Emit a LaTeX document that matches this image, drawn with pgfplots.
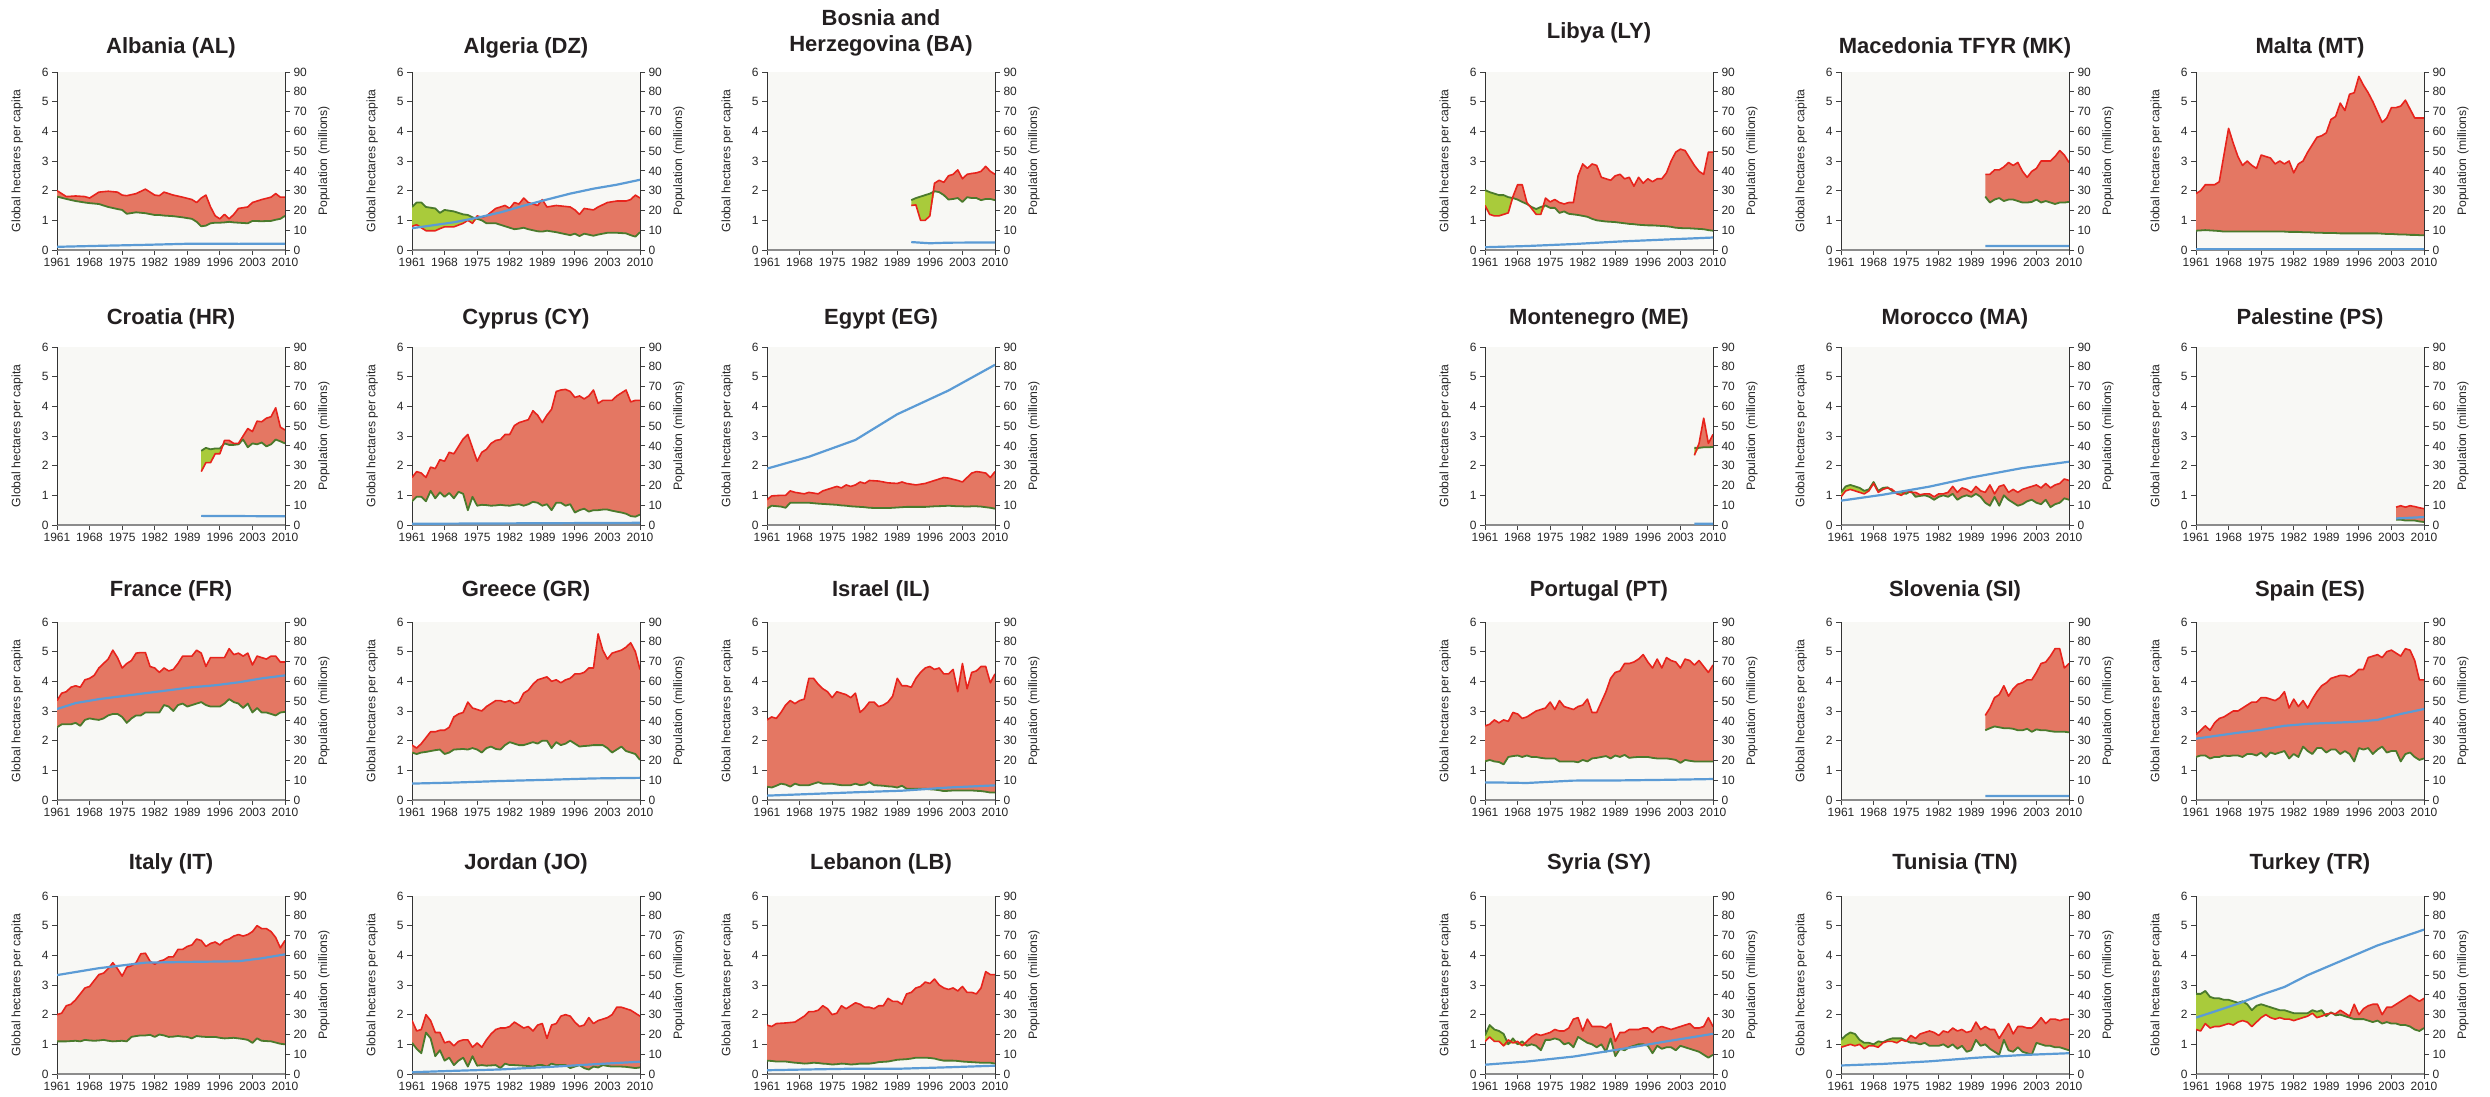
\documentclass[border=0pt]{standalone}
\usepackage{fontspec}
\setmainfont{Liberation Sans}
\usepackage{pgfplots}
\usepackage{pgfplotstable}
\pgfplotsset{compat=1.18}
\usepgfplotslibrary{fillbetween}
\definecolor{bgc}{HTML}{F8F8F5}
\definecolor{redfill}{HTML}{E47763}
\definecolor{redline}{HTML}{E8231C}
\definecolor{grnfill}{HTML}{A9CB3B}
\definecolor{grnline}{HTML}{4A7A2C}
\definecolor{popc}{HTML}{5B9BD5}
\definecolor{txt}{HTML}{231F20}

% ---------------- data: year, footprint (ef), biocapacity (bc) -------------
\pgfplotstableread{
year ef bc
1961 2.00 1.80
1963 1.80 1.72
1965 1.82 1.65
1967 1.80 1.60
1968 1.75 1.58
1970 1.95 1.55
1972 1.98 1.45
1974 1.95 1.38
1975 1.85 1.35
1976 1.83 1.22
1978 1.90 1.27
1980 2.05 1.24
1982 1.85 1.18
1983 1.83 1.18
1984 1.95 1.16
1986 1.85 1.14
1988 1.78 1.10
1990 1.70 1.05
1991 1.60 0.95
1992 1.75 0.80
1993 1.85 0.82
1994 1.45 0.90
1995 1.15 0.92
1996 1.05 0.92
1997 1.20 0.93
1998 1.05 0.95
1999 1.20 0.93
2000 1.40 0.92
2002 1.45 0.90
2003 1.60 0.98
2005 1.70 0.97
2007 1.78 0.98
2008 1.90 1.02
2009 1.78 1.05
2010 1.78 1.15
}\tAL
\pgfplotstableread{
year pop
1961 1.6
1970 2.1
1980 2.6
1990 3.2
1996 3.2
2000 3.1
2010 3.2
}\pAL
\pgfplotstableread{
year ef bc
1961 0.80 1.45
1962 0.85 1.60
1963 0.75 1.60
1964 0.65 1.45
1966 0.65 1.40
1967 0.72 1.25
1968 0.78 1.35
1970 0.78 1.30
1972 0.90 1.20
1973 1.00 1.18
1974 0.90 1.10
1975 1.15 1.05
1976 1.10 1.00
1977 1.15 0.90
1979 1.40 0.90
1981 1.50 0.80
1982 1.40 0.75
1983 1.60 0.70
1984 1.55 0.72
1985 1.75 0.75
1986 1.60 0.70
1988 1.50 0.63
1989 1.70 0.62
1990 1.45 0.65
1992 1.50 0.60
1995 1.45 0.50
1996 1.35 0.55
1997 1.20 0.47
1998 1.40 0.55
2000 1.35 0.48
2001 1.45 0.52
2003 1.60 0.58
2005 1.65 0.58
2007 1.65 0.56
2008 1.70 0.50
2009 1.85 0.45
2010 1.75 0.60
}\tDZ
\pgfplotstableread{
year pop
1961 11.0
1970 14.0
1975 16.3
1980 19.0
1985 22.4
1990 25.5
1995 28.5
2000 31.0
2005 33.0
2010 35.5
}\pDZ
\pgfplotstableread{
year ef bc
1992 1.50 1.68
1993 1.52 1.75
1994 1.00 1.80
1995 1.00 1.85
1996 1.15 1.90
1997 2.25 1.98
1998 2.35 1.95
1999 2.28 1.85
2000 2.50 1.70
2001 2.55 1.72
2002 2.70 1.75
2003 2.40 1.62
2004 2.55 1.78
2005 2.58 1.75
2006 2.60 1.75
2007 2.65 1.68
2008 2.82 1.72
2009 2.65 1.72
2010 2.55 1.68
}\tBA
\pgfplotstableread{
year pop
1992 4.0
1996 3.4
2000 3.7
2010 3.8
}\pBA
\pgfplotstableread{
year ef bc
1992 1.80 2.50
1993 2.10 2.60
1994 2.10 2.55
1995 2.40 2.58
1996 2.40 2.58
1997 2.85 2.75
1998 2.85 2.70
1999 2.75 2.70
2000 2.75 2.72
2001 3.00 2.88
2002 3.25 2.62
2003 3.15 2.75
2004 3.50 2.72
2005 3.48 2.78
2006 3.60 2.65
2007 3.65 2.72
2008 3.95 2.88
2009 3.30 2.82
2010 3.20 2.75
}\tHR
\pgfplotstableread{
year pop
1992 4.6
2010 4.4
}\pHR
\pgfplotstableread{
year ef bc
1961 1.60 0.80
1962 1.80 0.95
1963 1.75 0.95
1964 1.60 0.80
1965 1.95 1.15
1966 1.90 0.90
1967 2.20 1.10
1968 2.15 0.95
1969 2.45 1.08
1970 2.40 0.90
1971 2.65 1.12
1972 2.90 1.05
1973 3.05 0.50
1974 2.60 0.95
1975 2.15 0.65
1976 2.45 0.68
1977 2.55 0.67
1978 2.75 0.65
1979 2.85 0.66
1980 2.88 0.68
1981 3.05 0.66
1982 3.05 0.65
1983 3.35 0.68
1984 3.45 0.70
1985 3.50 0.65
1986 3.55 0.70
1987 3.85 0.78
1988 3.70 0.75
1989 3.45 0.65
1990 3.70 0.70
1991 3.90 0.50
1992 4.50 0.75
1993 4.55 0.75
1994 4.57 0.65
1995 4.50 0.70
1996 4.30 0.42
1997 4.35 0.50
1998 4.25 0.55
1999 4.35 0.45
2000 4.55 0.50
2001 4.10 0.50
2002 4.20 0.52
2003 4.20 0.52
2004 4.20 0.48
2005 4.35 0.45
2006 4.45 0.42
2007 4.55 0.38
2008 4.15 0.30
2009 4.20 0.28
2010 4.20 0.35
}\tCY
\pgfplotstableread{
year pop
1961 0.6
2010 1.1
}\pCY
\pgfplotstableread{
year ef bc
1961 0.85 0.55
1962 0.98 0.65
1964 1.00 0.62
1965 1.00 0.58
1966 1.15 0.75
1967 1.10 0.75
1969 1.05 0.75
1970 1.10 0.75
1972 1.05 0.72
1973 1.15 0.71
1975 1.25 0.69
1976 1.30 0.68
1977 1.25 0.66
1978 1.35 0.65
1979 1.30 0.63
1980 1.35 0.62
1981 1.45 0.61
1982 1.40 0.60
1983 1.50 0.58
1985 1.48 0.57
1987 1.42 0.57
1989 1.40 0.59
1990 1.45 0.60
1991 1.40 0.61
1993 1.35 0.61
1995 1.40 0.61
1997 1.50 0.63
1999 1.60 0.64
2000 1.58 0.65
2002 1.50 0.63
2003 1.45 0.63
2004 1.60 0.62
2005 1.75 0.63
2006 1.80 0.63
2007 1.78 0.62
2008 1.75 0.60
2009 1.60 0.58
2010 1.80 0.55
}\tEG
\pgfplotstableread{
year pop
1961 28.5
1970 34.5
1980 43.0
1989 56.0
2000 68.0
2010 81.0
}\pEG
\pgfplotstableread{
year ef bc
1961 3.35 2.45
1962 3.60 2.55
1963 3.65 2.55
1964 3.80 2.55
1965 3.85 2.60
1966 3.80 2.50
1967 4.05 2.70
1968 4.10 2.75
1969 4.20 2.72
1970 4.45 2.70
1971 4.60 2.75
1972 4.75 2.85
1973 5.05 2.90
1974 4.80 2.90
1975 4.45 2.80
1976 4.60 2.60
1977 4.70 2.75
1978 4.95 2.85
1979 4.97 2.85
1980 4.97 2.95
1981 4.50 2.95
1982 4.45 2.95
1983 4.30 2.95
1984 4.45 3.20
1985 4.35 3.15
1986 4.40 3.00
1987 4.60 3.20
1988 4.85 3.25
1989 4.85 3.15
1990 4.85 3.20
1991 5.05 3.25
1992 4.95 3.30
1993 4.50 3.20
1994 4.80 3.15
1995 4.80 3.15
1996 4.80 3.15
1997 4.80 3.25
1998 5.10 3.40
1999 4.90 3.30
2000 4.95 3.25
2001 4.85 3.10
2002 4.95 3.25
2003 4.55 2.95
2004 4.85 3.10
2005 4.80 2.95
2006 4.75 2.95
2007 4.85 2.90
2008 4.85 2.85
2009 4.65 2.95
2010 4.65 2.97
}\tFR
\pgfplotstableread{
year pop
1961 46.0
1965 49.0
1970 51.0
1975 52.5
1980 54.0
1985 55.5
1990 57.0
1995 58.0
2000 59.5
2005 61.5
2010 63.0
}\pFR
\pgfplotstableread{
year ef bc
1961 1.85 1.60
1962 1.75 1.55
1963 1.90 1.60
1964 2.10 1.62
1965 2.30 1.65
1966 2.30 1.68
1967 2.35 1.70
1968 2.35 1.55
1969 2.45 1.60
1970 2.80 1.70
1971 2.90 1.71
1972 2.95 1.72
1973 3.30 1.70
1974 3.10 1.75
1975 3.05 1.70
1976 3.00 1.60
1977 3.15 1.75
1978 3.25 1.80
1979 3.35 1.72
1980 3.35 1.70
1981 3.30 1.85
1982 3.35 1.95
1983 3.25 1.90
1984 3.30 1.85
1985 3.60 1.85
1986 3.70 1.90
1987 3.90 1.95
1988 4.05 1.90
1989 4.10 2.00
1990 4.15 2.00
1991 4.00 1.75
1992 4.05 1.95
1993 3.95 1.85
1994 4.05 1.90
1995 4.10 2.00
1996 4.25 1.90
1997 4.25 1.80
1998 4.30 1.82
1999 4.45 1.83
2000 4.45 1.85
2001 5.60 1.85
2002 5.05 1.85
2003 4.75 1.75
2004 4.95 1.60
2005 5.00 1.70
2006 5.05 1.80
2007 5.15 1.65
2008 5.30 1.60
2009 5.00 1.55
2010 4.40 1.35
}\tGR
\pgfplotstableread{
year pop
1961 8.3
1970 8.8
1980 9.6
1990 10.2
2000 10.9
2010 11.2
}\pGR
\pgfplotstableread{
year ef bc
1961 2.70 0.45
1962 2.80 0.42
1963 2.75 0.48
1964 2.95 0.55
1965 3.20 0.52
1966 3.35 0.45
1967 3.25 0.55
1968 3.35 0.50
1969 3.40 0.50
1970 4.10 0.50
1971 4.10 0.55
1972 3.90 0.60
1973 3.75 0.55
1974 3.65 0.55
1975 3.45 0.55
1976 3.65 0.52
1977 3.60 0.50
1978 3.55 0.50
1979 3.45 0.50
1980 3.60 0.55
1981 2.95 0.50
1982 3.10 0.52
1983 3.30 0.60
1984 3.30 0.50
1985 3.15 0.49
1986 3.20 0.48
1987 3.30 0.46
1988 3.50 0.45
1989 4.10 0.42
1990 3.85 0.48
1991 3.85 0.38
1992 3.80 0.38
1993 4.10 0.38
1994 4.30 0.38
1995 4.45 0.38
1996 4.50 0.36
1997 4.40 0.35
1998 4.45 0.33
1999 4.25 0.30
2000 4.25 0.31
2001 4.40 0.32
2002 3.65 0.32
2003 4.60 0.32
2004 3.75 0.32
2005 4.30 0.32
2006 4.35 0.31
2007 4.50 0.30
2008 4.50 0.28
2009 3.95 0.25
2010 4.25 0.25
}\tIL
\pgfplotstableread{
year pop
1961 2.2
1970 3.0
1980 3.9
1990 4.7
2000 6.3
2010 7.4
}\pIL
\pgfplotstableread{
year ef bc
1961 2.00 1.10
1962 2.05 1.10
1963 2.30 1.10
1964 2.35 1.11
1965 2.50 1.12
1966 2.70 1.10
1967 2.90 1.15
1968 2.95 1.13
1969 3.15 1.12
1970 3.35 1.13
1971 3.40 1.15
1972 3.55 1.12
1973 3.75 1.10
1974 3.55 1.11
1975 3.30 1.12
1976 3.60 1.10
1977 3.65 1.25
1978 3.75 1.28
1979 4.05 1.30
1980 4.07 1.30
1981 3.80 1.32
1982 3.70 1.25
1983 3.80 1.33
1984 3.85 1.30
1985 3.95 1.25
1986 3.95 1.26
1987 4.20 1.28
1988 4.20 1.26
1989 4.30 1.25
1990 4.35 1.20
1991 4.55 1.28
1992 4.50 1.26
1993 4.30 1.25
1994 4.40 1.25
1995 4.45 1.25
1996 4.35 1.22
1997 4.50 1.20
1998 4.55 1.21
1999 4.65 1.22
2000 4.70 1.20
2001 4.65 1.18
2002 4.70 1.15
2003 4.80 1.05
2004 5.00 1.20
2005 4.90 1.12
2006 4.90 1.11
2007 4.80 1.10
2008 4.60 1.06
2009 4.25 1.02
2010 4.50 1.00
}\tIT
\pgfplotstableread{
year pop
1961 50.0
1970 53.5
1980 56.3
1990 56.7
2000 57.0
2005 58.5
2010 60.5
}\pIT
\pgfplotstableread{
year ef bc
1961 1.80 1.05
1962 1.45 0.85
1963 1.50 0.70
1964 2.00 1.40
1965 1.80 1.20
1966 1.40 0.60
1967 1.40 0.80
1968 1.05 0.45
1969 1.10 0.55
1970 0.95 0.30
1971 1.10 0.45
1972 1.15 0.55
1973 1.15 0.25
1974 0.90 0.60
1975 1.05 0.28
1976 0.90 0.30
1977 1.15 0.28
1978 1.35 0.29
1979 1.50 0.30
1980 1.55 0.20
1981 1.55 0.35
1982 1.60 0.30
1983 1.75 0.30
1984 1.65 0.29
1985 1.55 0.28
1986 1.60 0.27
1987 1.45 0.25
1988 1.65 0.30
1989 1.70 0.30
1990 1.20 0.25
1991 1.65 0.35
1992 1.70 0.30
1993 1.95 0.30
1994 2.00 0.30
1995 1.95 0.20
1996 1.75 0.25
1997 1.60 0.30
1998 1.65 0.20
1999 1.90 0.15
2000 1.70 0.25
2001 1.80 0.22
2002 1.85 0.30
2003 1.90 0.27
2004 2.00 0.25
2005 2.25 0.25
2006 2.25 0.25
2007 2.20 0.24
2008 2.15 0.22
2009 2.05 0.20
2010 1.95 0.22
}\tJO
\pgfplotstableread{
year pop
1961 0.9
1970 1.6
1980 2.3
1990 3.5
2000 4.9
2010 6.2
}\pJO
\pgfplotstableread{
year ef bc
1961 1.65 0.45
1962 1.60 0.44
1963 1.70 0.42
1965 1.72 0.42
1967 1.75 0.38
1968 1.85 0.37
1969 1.95 0.35
1970 2.10 0.36
1971 2.10 0.38
1972 2.15 0.37
1973 2.30 0.35
1974 2.20 0.34
1975 2.00 0.32
1976 2.05 0.33
1977 2.30 0.35
1978 2.20 0.34
1979 2.30 0.32
1980 2.40 0.33
1981 2.35 0.35
1982 2.25 0.35
1983 2.25 0.35
1984 2.20 0.37
1985 2.30 0.40
1986 2.30 0.41
1987 2.55 0.42
1988 2.45 0.45
1989 2.45 0.48
1990 2.35 0.49
1991 2.70 0.50
1992 2.75 0.52
1993 2.90 0.55
1994 2.95 0.55
1995 3.10 0.55
1996 3.05 0.54
1997 3.20 0.52
1998 3.00 0.48
1999 2.90 0.45
2000 2.85 0.45
2001 2.90 0.45
2002 2.80 0.44
2003 2.95 0.42
2004 2.75 0.41
2005 2.75 0.40
2006 2.70 0.39
2007 2.90 0.38
2008 3.45 0.38
2009 3.35 0.38
2010 3.35 0.35
}\tLB
\pgfplotstableread{
year pop
1961 1.9
1970 2.3
1980 2.7
1990 2.7
2000 3.4
2010 4.2
}\pLB
\pgfplotstableread{
year ef bc
1961 1.50 2.02
1962 1.20 1.95
1963 1.15 1.90
1964 1.15 1.85
1965 1.20 1.85
1966 1.25 1.78
1967 1.80 1.75
1968 2.20 1.70
1969 2.20 1.62
1970 1.60 1.55
1971 1.40 1.45
1972 1.20 1.38
1973 1.20 1.45
1974 1.75 1.50
1975 1.62 1.42
1976 1.70 1.42
1977 1.60 1.25
1978 1.55 1.30
1979 1.60 1.22
1980 1.60 1.20
1981 2.50 1.18
1982 2.90 1.15
1983 2.75 1.12
1984 2.90 1.05
1985 2.85 1.00
1986 2.45 0.98
1987 2.40 0.96
1988 2.35 0.95
1989 2.50 0.94
1990 2.55 0.92
1991 2.40 0.90
1992 2.45 0.88
1993 2.15 0.87
1994 2.45 0.85
1995 2.25 0.84
1996 2.40 0.83
1997 2.30 0.83
1998 2.40 0.82
1999 2.40 0.81
2000 2.60 0.80
2001 3.00 0.78
2002 3.30 0.75
2003 3.40 0.74
2004 3.35 0.73
2005 3.10 0.73
2006 2.85 0.72
2007 2.65 0.71
2008 2.55 0.70
2009 3.30 0.67
2010 3.30 0.65
}\tLY
\pgfplotstableread{
year pop
1961 1.4
1970 2.0
1980 3.0
1990 4.3
2000 5.3
2010 6.3
}\pLY
\pgfplotstableread{
year ef bc
1992 2.55 1.80
1993 2.55 1.60
1994 2.70 1.70
1995 2.70 1.75
1996 2.80 1.65
1997 2.95 1.70
1998 2.85 1.70
1999 2.95 1.65
2000 2.65 1.60
2001 2.45 1.60
2002 2.65 1.62
2003 2.75 1.70
2004 3.00 1.60
2005 3.00 1.65
2006 3.00 1.60
2007 3.15 1.55
2008 3.35 1.60
2009 3.20 1.60
2010 2.95 1.62
}\tMK
\pgfplotstableread{
year pop
1992 2.0
2010 2.05
}\pMK
\pgfplotstableread{
year ef bc
1961 1.90 0.65
1962 2.00 0.66
1963 2.20 0.67
1964 2.20 0.66
1965 2.20 0.65
1966 2.30 0.64
1967 3.20 0.62
1968 4.10 0.62
1969 3.60 0.62
1970 3.15 0.62
1971 2.85 0.62
1972 3.00 0.62
1973 2.85 0.62
1974 2.75 0.62
1975 3.20 0.62
1976 3.15 0.62
1977 3.10 0.62
1978 2.90 0.62
1979 3.00 0.62
1980 2.90 0.62
1981 3.00 0.61
1982 2.60 0.61
1983 2.90 0.61
1984 3.00 0.60
1985 3.30 0.60
1986 3.55 0.59
1987 3.80 0.58
1988 3.85 0.58
1989 3.95 0.57
1990 4.40 0.57
1991 4.50 0.57
1992 4.95 0.56
1993 4.70 0.56
1994 5.25 0.56
1995 5.30 0.56
1996 5.85 0.56
1997 5.55 0.56
1998 5.30 0.56
1999 5.00 0.56
2000 4.65 0.56
2001 4.30 0.55
2002 4.45 0.54
2003 4.80 0.54
2004 4.80 0.53
2005 4.85 0.52
2006 5.05 0.52
2007 4.75 0.51
2008 4.45 0.51
2009 4.45 0.50
2010 4.45 0.50
}\tMT
\pgfplotstableread{
year pop
1961 0.33
2010 0.41
}\pMT
\pgfplotstableread{
year ef bc
2006 2.35 2.60
2007 2.75 2.60
2008 3.60 2.62
2009 2.75 2.62
2010 3.05 2.63
}\tME
\pgfplotstableread{
year pop
2006 0.62
2010 0.63
}\pME
\pgfplotstableread{
year ef bc
1961 0.95 1.10
1962 1.15 1.30
1963 1.20 1.35
1964 1.15 1.30
1965 1.10 1.25
1966 1.05 1.15
1967 1.15 1.20
1968 1.40 1.45
1969 1.10 1.15
1970 1.20 1.25
1971 1.25 1.27
1972 1.20 1.15
1973 1.05 1.08
1974 1.00 1.10
1975 1.15 1.05
1976 1.10 1.15
1977 1.10 0.95
1978 1.02 0.98
1979 1.05 1.00
1980 1.05 0.95
1981 0.95 0.85
1982 1.05 0.95
1983 1.05 1.00
1984 1.10 0.95
1985 1.30 1.05
1986 1.10 0.85
1987 1.25 0.95
1988 1.20 1.00
1989 1.10 0.95
1990 1.30 1.05
1991 1.15 0.95
1992 1.10 0.75
1993 1.35 0.65
1994 1.05 0.95
1995 1.30 0.65
1996 1.35 1.00
1997 1.10 0.85
1998 1.20 0.75
1999 1.10 0.65
2000 1.20 0.70
2001 1.25 0.80
2002 1.30 0.85
2003 1.35 0.75
2004 1.25 0.70
2005 1.40 0.85
2006 1.25 0.60
2007 1.35 0.70
2008 1.40 0.75
2009 1.55 0.90
2010 1.50 0.85
}\tMA
\pgfplotstableread{
year pop
1961 12.3
1970 15.3
1980 19.4
1989 24.0
2000 28.8
2010 32.0
}\pMA
\pgfplotstableread{
year ef bc
2004 0.60 0.18
2005 0.65 0.18
2006 0.60 0.15
2007 0.65 0.15
2008 0.62 0.15
2009 0.58 0.12
2010 0.55 0.10
}\tPS
\pgfplotstableread{
year pop
2004 3.3
2010 4.0
}\pPS
\pgfplotstableread{
year ef bc
1961 2.50 1.30
1962 2.55 1.35
1963 2.70 1.30
1964 2.60 1.28
1965 2.70 1.20
1966 2.65 1.45
1967 2.95 1.48
1968 2.90 1.50
1969 2.75 1.45
1970 2.80 1.50
1971 2.90 1.45
1972 3.00 1.45
1973 3.05 1.42
1974 3.10 1.40
1975 3.30 1.40
1976 3.05 1.40
1977 3.35 1.30
1978 3.15 1.30
1979 3.10 1.30
1980 3.05 1.30
1981 3.15 1.27
1982 3.20 1.35
1983 3.40 1.30
1984 2.95 1.40
1985 2.95 1.42
1986 3.30 1.45
1987 3.65 1.48
1988 4.10 1.40
1989 4.30 1.50
1990 4.35 1.45
1991 4.60 1.52
1992 4.60 1.42
1993 4.65 1.44
1994 4.75 1.45
1995 4.90 1.45
1996 4.65 1.45
1997 4.45 1.42
1998 4.75 1.40
1999 4.45 1.40
2000 4.80 1.40
2001 4.70 1.38
2002 4.65 1.35
2003 4.45 1.25
2004 4.75 1.35
2005 4.70 1.32
2006 4.55 1.30
2007 4.70 1.30
2008 4.50 1.30
2009 4.30 1.30
2010 4.55 1.30
}\tPT
\pgfplotstableread{
year pop
1961 8.9
1965 8.8
1970 8.6
1975 9.2
1980 9.8
1990 9.9
2000 10.2
2010 10.6
}\pPT
\pgfplotstableread{
year ef bc
1992 2.85 2.35
1993 3.10 2.42
1994 3.45 2.48
1995 3.55 2.45
1996 3.85 2.42
1997 3.50 2.42
1998 3.75 2.40
1999 3.90 2.35
2000 3.95 2.35
2001 4.05 2.40
2002 4.05 2.30
2003 4.30 2.38
2004 4.60 2.35
2005 4.65 2.35
2006 4.85 2.32
2007 5.10 2.30
2008 5.10 2.30
2009 4.45 2.30
2010 4.60 2.28
}\tSI
\pgfplotstableread{
year pop
1992 2.0
2010 2.05
}\pSI
\pgfplotstableread{
year ef bc
1961 2.20 1.45
1962 2.35 1.50
1963 2.50 1.50
1964 2.35 1.40
1965 2.60 1.45
1966 2.75 1.45
1967 2.80 1.50
1968 2.90 1.48
1969 3.00 1.50
1970 3.00 1.50
1971 3.10 1.45
1972 3.20 1.55
1973 3.30 1.55
1974 3.30 1.50
1975 3.45 1.60
1976 3.45 1.45
1977 3.40 1.60
1978 3.35 1.55
1979 3.45 1.60
1980 3.65 1.65
1981 3.10 1.40
1982 3.40 1.55
1983 3.15 1.45
1984 3.35 1.80
1985 3.10 1.65
1986 3.40 1.55
1987 3.65 1.75
1988 3.85 1.75
1989 3.95 1.60
1990 4.10 1.70
1991 4.15 1.70
1992 4.20 1.55
1993 4.20 1.65
1994 4.15 1.55
1995 4.25 1.30
1996 4.40 1.75
1997 4.40 1.70
1998 4.80 1.75
1999 4.85 1.55
2000 4.90 1.70
2001 4.80 1.80
2002 5.00 1.60
2003 5.05 1.65
2004 4.95 1.65
2005 4.85 1.30
2006 5.10 1.55
2007 5.05 1.60
2008 4.70 1.45
2009 4.05 1.35
2010 4.05 1.40
}\tES
\pgfplotstableread{
year pop
1961 31.0
1970 34.0
1975 35.5
1980 37.5
1985 38.5
1990 39.0
1995 39.5
2000 40.5
2005 43.5
2010 46.0
}\pES
\pgfplotstableread{
year ef bc
1961 1.10 1.30
1962 1.25 1.65
1963 1.10 1.50
1964 1.10 1.45
1965 0.95 1.35
1966 1.15 1.00
1967 1.05 1.20
1968 1.10 1.00
1969 0.95 1.10
1970 1.10 0.95
1971 1.25 1.00
1972 1.35 0.95
1973 1.30 0.80
1974 1.35 1.15
1975 1.40 1.15
1976 1.50 1.20
1977 1.45 1.15
1978 1.45 1.00
1979 1.55 1.05
1980 1.85 0.90
1981 1.90 1.25
1982 1.45 1.15
1983 1.85 1.05
1984 1.60 1.00
1985 1.60 0.90
1986 1.60 1.00
1987 1.55 0.75
1988 1.70 1.20
1989 1.10 0.60
1990 1.40 0.85
1991 1.40 0.80
1992 1.50 0.90
1993 1.50 0.95
1994 1.50 1.00
1995 1.55 1.00
1996 1.55 0.95
1997 1.40 0.70
1998 1.55 0.95
1999 1.60 0.85
2000 1.55 0.90
2001 1.50 0.90
2002 1.55 0.80
2003 1.60 0.95
2004 1.65 0.90
2005 1.70 0.85
2006 1.55 0.80
2007 1.55 0.75
2008 1.60 0.65
2009 1.90 0.55
2010 1.60 0.65
}\tSY
\pgfplotstableread{
year pop
1961 4.7
1970 6.3
1980 8.8
1990 12.5
2000 16.5
2010 20.3
}\pSY
\pgfplotstableread{
year ef bc
1961 0.90 1.15
1962 0.95 1.30
1963 1.00 1.40
1964 0.95 1.35
1965 1.00 1.15
1966 0.85 1.05
1967 0.95 1.05
1968 0.95 1.00
1969 0.90 1.10
1970 1.05 1.07
1971 1.10 1.15
1972 1.10 1.20
1973 1.05 1.20
1974 1.15 1.20
1975 1.10 1.12
1976 1.30 1.05
1977 1.20 1.05
1978 1.35 1.00
1979 1.40 1.05
1980 1.45 0.95
1981 1.40 0.95
1982 1.30 0.95
1983 1.45 1.00
1984 1.40 0.90
1985 1.55 1.00
1986 1.45 0.85
1987 1.50 0.95
1988 1.40 0.75
1989 1.45 0.80
1990 1.75 1.15
1991 1.50 0.95
1992 1.60 1.00
1993 1.50 0.85
1994 1.50 0.75
1995 1.20 0.65
1996 1.45 1.15
1997 1.70 0.80
1998 1.35 0.75
1999 1.60 0.90
2000 1.60 0.75
2001 1.55 0.70
2002 1.55 0.65
2003 1.70 1.05
2004 1.90 1.00
2005 1.70 0.95
2006 1.85 0.95
2007 1.85 0.90
2008 1.80 0.90
2009 1.85 0.85
2010 1.85 0.80
}\tTN
\pgfplotstableread{
year pop
1961 4.3
1970 5.1
1980 6.4
1990 8.2
2000 9.6
2010 10.5
}\pTN
\pgfplotstableread{
year ef bc
1961 1.50 2.70
1962 1.45 2.70
1963 1.70 2.80
1964 1.55 2.60
1965 1.60 2.55
1966 1.60 2.55
1967 1.65 2.50
1968 1.70 2.50
1969 1.65 2.45
1970 1.75 2.40
1971 1.80 2.45
1972 1.75 2.35
1973 1.60 2.15
1974 1.75 2.30
1975 1.90 2.35
1976 2.00 2.30
1977 1.90 2.25
1978 1.85 2.20
1979 1.90 2.15
1980 1.85 2.15
1981 1.85 2.10
1982 1.80 2.05
1983 1.85 2.05
1984 1.90 2.05
1985 1.95 2.05
1986 2.05 2.15
1987 1.90 2.10
1988 1.95 2.15
1989 2.02 1.95
1990 2.05 2.08
1991 2.03 1.98
1992 2.15 2.00
1993 2.05 1.95
1994 1.95 1.90
1995 2.35 1.85
1996 2.00 1.85
1997 2.20 1.85
1998 2.30 1.80
1999 2.35 1.75
2000 2.35 1.80
2001 2.00 1.70
2002 2.25 1.75
2003 2.25 1.70
2004 2.35 1.70
2005 2.45 1.65
2006 2.55 1.65
2007 2.65 1.60
2008 2.55 1.50
2009 2.45 1.45
2010 2.55 1.55
}\tTR
\pgfplotstableread{
year pop
1961 28.5
1970 35.5
1975 40.0
1980 44.0
1985 50.0
1990 55.0
1995 60.0
2000 65.0
2005 69.0
2010 73.0
}\pTR

% ---------------- styles ----------------
\pgfplotsset{
  panelbase/.style={
    scale only axis, width=228pt, height=178pt,
    xmin=1961, xmax=2010,
    /pgf/number format/assume math mode=true,
    /pgf/number format/1000 sep={},
    tick align=outside, major tick length=5pt,
    tick style={draw=black!75, line width=0.8pt},
    ticklabel style={text=black!85, font=\fontsize{12}{14}\selectfont},
    label style={text=black!85, font=\fontsize{12.2}{14}\selectfont},
  },
  mainax/.style={
    panelbase, ymin=0, ymax=6,
    xtick={1961,1968,1975,1982,1989,1996,2003,2010},
    ytick={0,1,2,3,4,5,6},
    axis x line*=bottom, axis y line*=left,
    x axis line style={draw=black!45, line width=2.5pt, -},
    y axis line style={draw=black!80, line width=1pt, -},
    axis background/.style={fill=bgc},
    ylabel={Global hectares per capita},
    ylabel style={at={(axis description cs:-0.175,0.5)}, anchor=center},
    title style={at={(0.5,1)}, anchor=center, align=center, text=txt,
                 font=\bfseries\fontsize{22}{26}\selectfont},
  },
  popax/.style={
    panelbase, ymin=0, ymax=90,
    ytick={0,10,20,30,40,50,60,70,80,90},
    axis y line*=right, axis x line=none,
    y axis line style={draw=black!80, line width=1pt, -},
    ylabel={Population (millions)},
    ylabel style={at={(axis description cs:1.171,0.5)}, anchor=center},
  },
}

% #1 x, #2 y, #3 title, #4 data, #5 population, #6 title offset
\newcommand\panel[6]{%
  \begin{axis}[mainax, at={(#1pt,#2pt)}, anchor=south west,
      title={#3}, title style={yshift=#6pt}]
    \addplot[draw=none, name path=ef] table[x=year, y=ef] {#4};
    \addplot[draw=none, name path=mn] table[x=year, y expr={min(\thisrow{ef},\thisrow{bc})}] {#4};
    \addplot[draw=none, name path=bc] table[x=year, y=bc] {#4};
    \addplot[fill=redfill, draw=none] fill between[of=ef and mn];
    \addplot[fill=grnfill, draw=none] fill between[of=bc and mn];
    \addplot[grnline, line width=1.8pt, line join=round] table[x=year, y=bc] {#4};
    \addplot[redline, line width=1.6pt, line join=round] table[x=year, y=ef] {#4};
  \end{axis}
  \begin{axis}[popax, at={(#1pt,#2pt)}, anchor=south west]
    \addplot[popc, line width=2.2pt] table[x=year, y=pop] {#5};
  \end{axis}%
}

\begin{document}
\begin{tikzpicture}
% left block
\panel{57}{847}{Albania (AL)}{\tAL}{\pAL}{18}
\panel{412}{847}{Algeria (DZ)}{\tDZ}{\pDZ}{18}
\panel{767}{847}{Bosnia and\\Herzegovina (BA)}{\tBA}{\pBA}{33}
\panel{57}{572}{Croatia (HR)}{\tHR}{\pHR}{22}
\panel{412}{572}{Cyprus (CY)}{\tCY}{\pCY}{22}
\panel{767}{572}{Egypt (EG)}{\tEG}{\pEG}{22}
\panel{57}{297}{France (FR)}{\tFR}{\pFR}{25}
\panel{412}{297}{Greece (GR)}{\tGR}{\pGR}{25}
\panel{767}{297}{Israel (IL)}{\tIL}{\pIL}{25}
\panel{57}{23}{Italy (IT)}{\tIT}{\pIT}{26}
\panel{412}{23}{Jordan (JO)}{\tJO}{\pJO}{26}
\panel{767}{23}{Lebanon (LB)}{\tLB}{\pLB}{26}
% right block
\panel{1485}{847}{Libya (LY)}{\tLY}{\pLY}{33}
\panel{1841}{847}{Macedonia TFYR (MK)}{\tMK}{\pMK}{18}
\panel{2196}{847}{Malta (MT)}{\tMT}{\pMT}{18}
\panel{1485}{572}{Montenegro (ME)}{\tME}{\pME}{22}
\panel{1841}{572}{Morocco (MA)}{\tMA}{\pMA}{22}
\panel{2196}{572}{Palestine (PS)}{\tPS}{\pPS}{22}
\panel{1485}{297}{Portugal (PT)}{\tPT}{\pPT}{25}
\panel{1841}{297}{Slovenia (SI)}{\tSI}{\pSI}{25}
\panel{2196}{297}{Spain (ES)}{\tES}{\pES}{25}
\panel{1485}{23}{Syria (SY)}{\tSY}{\pSY}{26}
\panel{1841}{23}{Tunisia (TN)}{\tTN}{\pTN}{26}
\panel{2196}{23}{Turkey (TR)}{\tTR}{\pTR}{26}
\pgfresetboundingbox
\path[use as bounding box] (0,0) rectangle (2490pt,1097pt);
\end{tikzpicture}
\end{document}
